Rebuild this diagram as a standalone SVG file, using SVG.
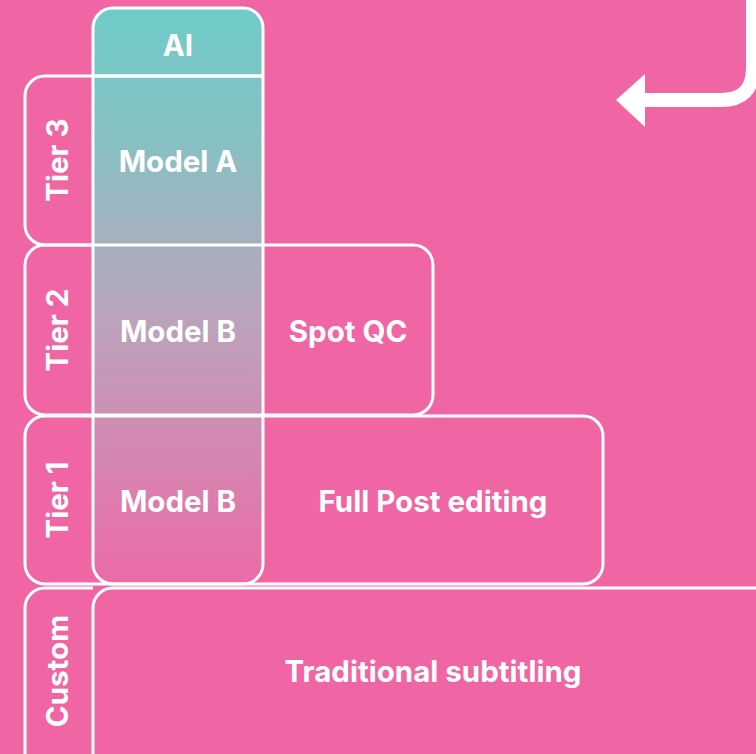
<svg xmlns="http://www.w3.org/2000/svg" width="756" height="754" viewBox="0 0 756 754">
<defs>
<linearGradient id="aiGrad" x1="0" y1="0" x2="0" y2="1">
<stop offset="0" stop-color="#6ECCC8"/>
<stop offset="0.25" stop-color="#8ABFC2"/>
<stop offset="0.55" stop-color="#BCA2BB"/>
<stop offset="1" stop-color="#EC6AA7"/>
</linearGradient>
<style>
.box{fill:none;stroke:#fff;stroke-width:3}
.lbl{fill:#fff;font-family:Inter,"Liberation Sans",sans-serif;font-weight:700;font-size:29.5px;text-anchor:middle}
</style>
</defs>
<rect width="756" height="754" fill="#F065A4"/>
<g id="ai-column">
<rect x="93" y="8" width="170" height="576" rx="20" fill="url(#aiGrad)" stroke="#fff" stroke-width="3"/>
<line x1="93" y1="76" x2="263" y2="76" stroke="#fff" stroke-width="3"/>
<text class="lbl" x="178" y="56">AI</text>
</g>
<g id="tier3">
<path class="box" d="M263 76 H45 A20 20 0 0 0 25 96 V225 A20 20 0 0 0 45 245 H93"/>
<text class="lbl" transform="translate(68,160) rotate(-90)" x="0" y="0">Tier 3</text>
<text class="lbl" x="178" y="172">Model A</text>
</g>
<g id="tier2">
<rect class="box" x="25" y="245" width="408" height="170" rx="20"/>
<text class="lbl" transform="translate(68,330) rotate(-90)" x="0" y="0">Tier 2</text>
<text class="lbl" x="178" y="342">Model B</text>
<text class="lbl" x="348" y="342">Spot QC</text>
</g>
<g id="tier1">
<rect class="box" x="25" y="416" width="578" height="168" rx="20"/>
<text class="lbl" transform="translate(68,500) rotate(-90)" x="0" y="0">Tier 1</text>
<text class="lbl" x="178" y="512">Model B</text>
<text class="lbl" x="433" y="512">Full Post editing</text>
</g>
<g id="custom">
<path class="box" d="M93 588 H45 A20 20 0 0 0 25 608 V760"/>
<rect class="box" x="93" y="588" width="700" height="200" rx="20"/>
<text class="lbl" transform="translate(68,671) rotate(-90)" x="0" y="0">Custom</text>
<text class="lbl" x="433" y="682">Traditional subtitling</text>
</g>
<g id="connectors">
<path d="M753 -5 V68 Q753 100 721 100 H640" fill="none" stroke="#fff" stroke-width="14"/>
<polygon points="616,100 645,74 645,127" fill="#fff"/>
</g>
</svg>
